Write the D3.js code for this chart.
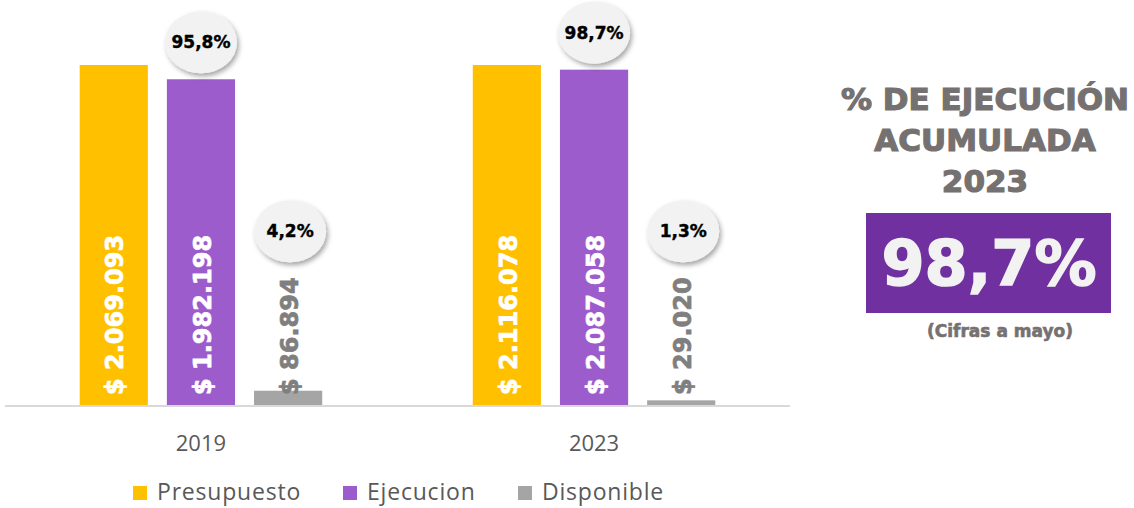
<!DOCTYPE html>
<html>
<head>
<meta charset="utf-8">
<script src="https://cdn.jsdelivr.net/npm/d3@7"></script>
<style>
  body { margin: 0; background: #fff; }
  svg { display: block; }
</style>
</head>
<body>
<svg id="chart"></svg>
<script>
const categories = ['2019', '2023']
const series = ['Presupuesto', 'Ejecucion', 'Disponible']
const presupuesto = [2069093, 2116078]
const ejecucion = [1982198, 2087058]
const disponible = [86894, 29020]
const ejecucionPct = ['95,8%', '98,7%']
const disponiblePct = ['4,2%', '1,3%']
const colors = ['#ffc000', '#9c5ccc', '#a5a5a5']

const kpiTitle = ['% DE EJECUCIÓN', 'ACUMULADA', '2023']
const kpiValue = '98,7%'
const kpiNote = '(Cifras a mayo)'

const W = 1134, H = 508
const base = 405

const svg = d3.select('#chart').attr('width', W).attr('height', H)

// shadow for the percent bubbles
const defs = svg.append('defs')
defs.append('filter').attr('id', 'shadow')
    .attr('x', '-30%').attr('y', '-30%').attr('width', '160%').attr('height', '170%')
  .append('feDropShadow')
    .attr('dx', 2).attr('dy', 3).attr('stdDeviation', 2.5)
    .attr('flood-color', '#000').attr('flood-opacity', 0.35)

const locale = d3.formatLocale({ decimal: ',', thousands: '.', grouping: [3], currency: ['$ ', ''] })
const money = locale.format('$,')

// bars are drawn as share of the budget
const rows = categories.map((c, i) => ({
  cat: c,
  vals: [presupuesto[i], ejecucion[i], disponible[i]].map((v, j) => ({
    key: series[j], value: v, share: v / presupuesto[i] * 100, color: colors[j], i: i, j: j
  }))
}))

const x0 = d3.scaleBand().domain(categories).range([5, 790]).paddingInner(0.383).paddingOuter(0.19)
const x1 = d3.scaleBand().domain(series).range([0, x0.bandwidth()]).paddingInner(0.218).paddingOuter(0)
const y = d3.scaleLinear().domain([0, 100]).range([base, 65])

const groups = svg.selectAll('g.group').data(rows)
  .enter().append('g')
    .attr('class', 'group')
    .attr('transform', d => `translate(${x0(d.cat)},0)`)

groups.selectAll('rect').data(d => d.vals)
  .enter().append('rect')
    .attr('x', d => x1(d.key))
    .attr('y', d => y(d.share))
    .attr('width', x1.bandwidth())
    .attr('height', d => base - y(d.share))
    .attr('fill', d => d.color)

// axis line
svg.append('line')
    .attr('x1', 5).attr('x2', 790)
    .attr('y1', base + 1).attr('y2', base + 1)
    .attr('stroke', '#d9d9d9').attr('stroke-width', 2)

// rotated value labels
const labels = groups.selectAll('text.val').data(d => d.vals)
  .enter().append('text')
    .attr('class', 'val')
    .attr('transform', d => `translate(${x1(d.key) + x1.bandwidth() / 2 + 1},395) rotate(-90)`)
    .attr('dy', '0.36em')
    .attr('font-family', 'DejaVu Sans')
    .attr('font-weight', 'bold')
    .attr('font-size', 24)
    .attr('fill', d => d.j === 2 ? '#7f7f7f' : '#ffffff')
    .attr('stroke', d => d.j === 2 ? '#7f7f7f' : '#ffffff')
    .attr('stroke-width', 0.7)
    .text(d => money(d.value))

// percent bubbles
const bubbles = []
labels.each(function(d) {
  const cx = x0(categories[d.i]) + x1(d.key) + x1.bandwidth() / 2
  if (d.j === 1) bubbles.push({ x: cx, y: y(d.share) - 37, t: ejecucionPct[d.i] })
  if (d.j === 2) bubbles.push({ x: cx + 2, y: 395 - this.getComputedTextLength() - 46, t: disponiblePct[d.i] })
})

const bub = svg.selectAll('g.bubble').data(bubbles)
  .enter().append('g')
    .attr('class', 'bubble')
    .attr('transform', d => `translate(${d.x},${d.y})`)
bub.append('ellipse')
    .attr('rx', 36).attr('ry', 31)
    .attr('fill', '#f2f2f2')
    .attr('filter', 'url(#shadow)')
bub.append('text')
    .attr('text-anchor', 'middle')
    .attr('dy', '0.36em')
    .attr('font-family', 'DejaVu Sans')
    .attr('font-weight', 'bold')
    .attr('font-size', 17)
    .attr('fill', '#000')
    .attr('stroke', '#000').attr('stroke-width', 0.4)
    .text(d => d.t)

// category labels
svg.selectAll('text.cat').data(categories)
  .enter().append('text')
    .attr('class', 'cat')
    .attr('x', d => x0(d) + x0.bandwidth() / 2)
    .attr('y', 451)
    .attr('text-anchor', 'middle')
    .attr('font-family', 'Open Sans')
    .attr('font-size', 22)
    .attr('fill', '#595959')
    .text(d => d)

// legend
const legendX = [133, 343, 518]
const leg = svg.selectAll('g.legend').data(series)
  .enter().append('g')
    .attr('class', 'legend')
    .attr('transform', (d, i) => `translate(${legendX[i]},486)`)
leg.append('rect').attr('width', 14).attr('height', 14).attr('fill', (d, i) => colors[i])
leg.append('text')
    .attr('x', 24).attr('y', 14)
    .attr('font-family', 'Open Sans')
    .attr('font-size', 23)
    .attr('letter-spacing', 0.8)
    .attr('fill', '#595959')
    .text(d => d)

// KPI panel on the right
const kx = 985
svg.selectAll('text.kpi').data(kpiTitle)
  .enter().append('text')
    .attr('class', 'kpi')
    .attr('x', kx)
    .attr('y', (d, i) => 110 + i * 41)
    .attr('text-anchor', 'middle')
    .attr('font-family', 'DejaVu Sans')
    .attr('font-weight', 'bold')
    .attr('font-size', 31)
    .attr('fill', '#767171')
    .attr('stroke', '#767171').attr('stroke-width', 1.2)
    .text(d => d)

svg.append('rect')
    .attr('x', 866).attr('y', 213)
    .attr('width', 245).attr('height', 100)
    .attr('fill', '#7030a0')
svg.append('text')
    .attr('x', 989).attr('y', 285)
    .attr('text-anchor', 'middle')
    .attr('font-family', 'DejaVu Sans')
    .attr('font-weight', 'bold')
    .attr('font-size', 62)
    .attr('fill', '#f2f2f2')
    .attr('stroke', '#f2f2f2').attr('stroke-width', 1.5)
    .text(kpiValue)
svg.append('text')
    .attr('x', 1000).attr('y', 337)
    .attr('text-anchor', 'middle')
    .attr('font-family', 'DejaVu Sans')
    .attr('font-weight', 'bold')
    .attr('font-size', 17)
    .attr('fill', '#767171')
    .attr('stroke', '#767171').attr('stroke-width', 0.6)
    .text(kpiNote)
</script>
</body>
</html>
